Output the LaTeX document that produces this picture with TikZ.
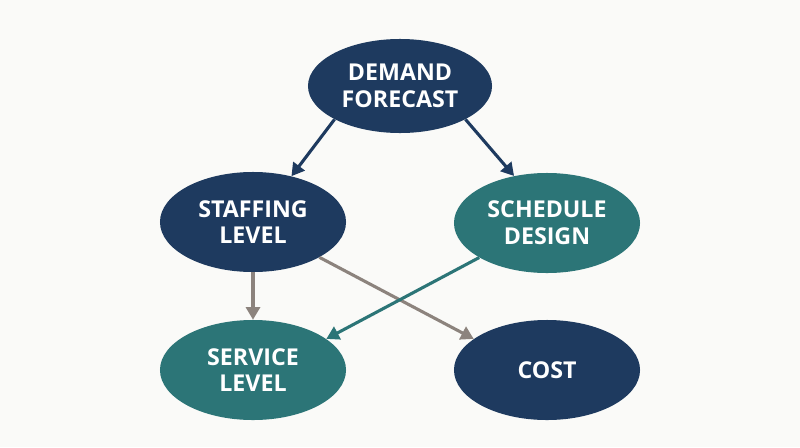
\documentclass[tikz,border=0pt]{standalone}
\usepackage{fontspec}
\setmainfont{Open Sans}
\usepackage{tikz}
\usetikzlibrary{arrows.meta, shapes.geometric}
\definecolor{demandnavy}{RGB}{30, 58, 95}
\definecolor{scheduleteal}{RGB}{44, 117, 119}
\definecolor{linkgray}{RGB}{140, 131, 125}
\definecolor{paperwhite}{RGB}{250, 250, 248}

\begin{document}
\begin{tikzpicture}[x=0.025cm, y=-0.025cm,
    blob/.style={ellipse, inner sep=0pt, minimum width=4.65cm, minimum height=2.5cm,
      text=white, align=center, font=\bfseries\fontsize{16.5}{19}\selectfont},
    navyblob/.style={blob, fill=demandnavy},
    tealblob/.style={blob, fill=scheduleteal},
    link/.style={line width=2.2pt, -{Triangle[length=9pt, width=10pt]}}]
        % Page
        \fill[paperwhite] (0,0) rectangle (800,447);
        % Ellipses
        \node[navyblob, minimum width=4.6cm, minimum height=2.35cm] (demand) at (400,86) {DEMAND\\FORECAST};
        \node[navyblob] (staffing) at (253,222) {STAFFING\\LEVEL};
        \node[tealblob] (schedule) at (547,223) {SCHEDULE\\DESIGN};
        \node[tealblob] (service) at (253,370) {SERVICE\\LEVEL};
        \node[navyblob] (cost) at (547,370) {COST};
        % Links
        \draw[link, demandnavy] (demand.207) -- (staffing.50);
        \draw[link, demandnavy] (demand.333) -- (schedule.125);
        \draw[link, linkgray] (staffing.south) -- (service.north);
        \draw[link, linkgray] (staffing.332) -- (cost.157);
        \draw[link, scheduleteal] (schedule.207) -- (service.23);
\end{tikzpicture}
\end{document}
